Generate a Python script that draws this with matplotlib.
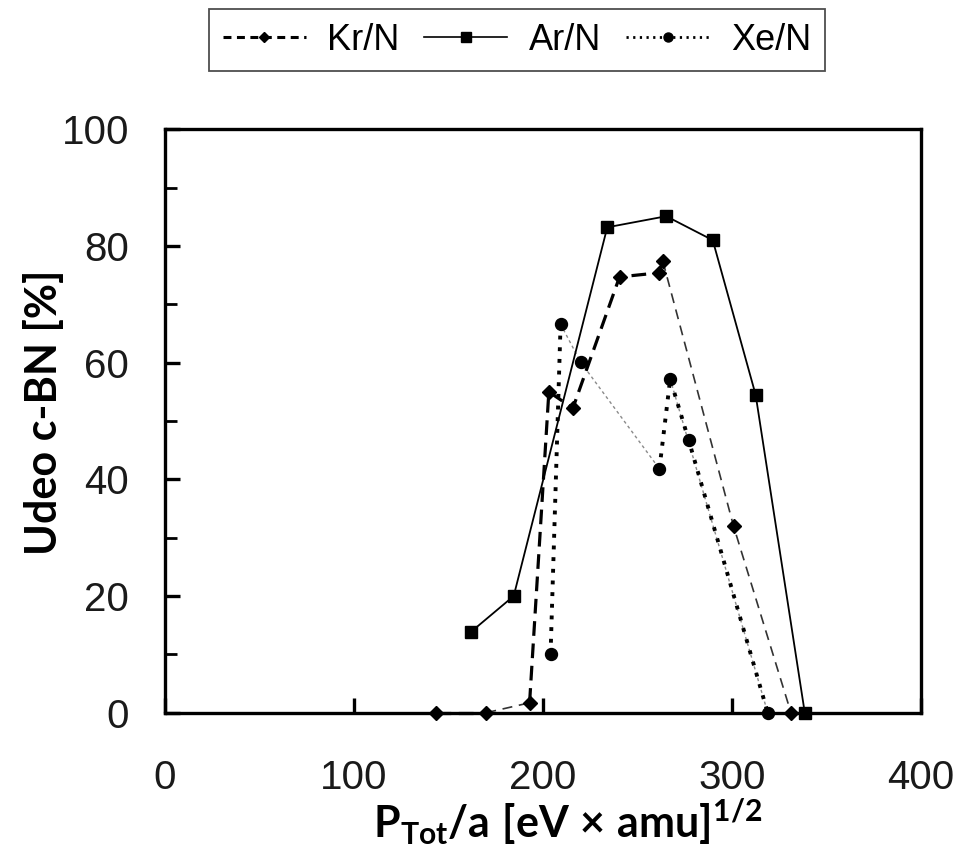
import matplotlib
matplotlib.use("Agg")
import matplotlib.pyplot as plt
from matplotlib.lines import Line2D
from matplotlib.ticker import MultipleLocator

# ---- data -------------------------------------------------------------
kr_x = [143.5, 170.0, 192.9, 203.1, 215.8, 240.5, 261.3, 263.4, 300.8, 331.2]
kr_y = [0.0, 0.0, 1.7, 55.0, 52.2, 74.7, 75.4, 77.4, 32.0, 0.0]

ar_x = [161.7, 184.5, 234.0, 265.2, 289.8, 312.5, 338.5]
ar_y = [13.8, 20.0, 83.2, 85.1, 81.0, 54.5, 0.0]

xe_x = [204.0, 209.3, 219.9, 261.6, 267.3, 277.1, 318.9]
xe_y = [10.0, 66.6, 60.1, 41.8, 57.2, 46.7, 0.0]

series_labels = ["Kr/N", "Ar/N", "Xe/N"]
x_ticks = [0, 100, 200, 300, 400]
y_ticks = [0, 20, 40, 60, 80, 100]

# runs of points joined by heavy vs. light strokes
kr_heavy = [[0, 1], [2, 3, 4, 5, 6, 7]]
kr_light = [[1, 2], [7, 8, 9]]
xe_heavy = [[0, 1], [3, 4, 5, 6]]
xe_light = [[1, 2, 3], [4, 6]]

# ---- figure -----------------------------------------------------------
plt.rcParams["font.family"] = ["Liberation Sans", "DejaVu Sans"]
plt.rcParams["mathtext.fontset"] = "custom"
plt.rcParams["mathtext.rm"] = "Lato:bold"
plt.rcParams["mathtext.it"] = "Lato:bold"
plt.rcParams["mathtext.bf"] = "Lato:bold"

fig = plt.figure(figsize=(9.61, 8.5), dpi=100)
ax = fig.add_axes([165 / 961, 1 - 712.7 / 850, 756 / 961, 583.4 / 850])


def pick(xs, ys, idx):
    return [xs[i] for i in idx], [ys[i] for i in idx]


# Ar/N: solid line with squares
ax.plot(ar_x, ar_y, color="black", lw=1.3, solid_joinstyle="miter",
        zorder=3, clip_on=False)
ax.plot(ar_x, ar_y, ls="none", marker="s", ms=9.0, color="black",
        zorder=5, clip_on=False)

# Kr/N: dashed line with diamonds
for run in kr_heavy:
    xs, ys = pick(kr_x, kr_y, run)
    ax.plot(xs, ys, color="black", lw=2.3, dashes=(4.6, 2.4),
            zorder=3, clip_on=False)
for run in kr_light:
    xs, ys = pick(kr_x, kr_y, run)
    ax.plot(xs, ys, color="#333333", lw=1.2, dashes=(6.0, 4.0),
            zorder=3, clip_on=False)
ax.plot(kr_x, kr_y, ls="none", marker="D", ms=6.8, color="black",
        zorder=5, clip_on=False)

# Xe/N: dotted line with circles
for run in xe_heavy:
    xs, ys = pick(xe_x, xe_y, run)
    ax.plot(xs, ys, color="black", lw=2.8, dashes=(1.0, 2.0),
            zorder=3, clip_on=False)
for run in xe_light:
    xs, ys = pick(xe_x, xe_y, run)
    ax.plot(xs, ys, color="#8a8a8a", lw=1.0, dashes=(2.2, 2.2),
            zorder=2, clip_on=False)
ax.plot(xe_x, xe_y, ls="none", marker="o", ms=8.6, color="black",
        zorder=5, clip_on=False)

# ---- axes -------------------------------------------------------------
ax.set_xlim(x_ticks[0], x_ticks[-1])
ax.set_ylim(y_ticks[0], y_ticks[-1])
ax.set_xticks(x_ticks)
ax.set_yticks(y_ticks)
ax.yaxis.set_minor_locator(MultipleLocator(10))

for side in ax.spines.values():
    side.set_linewidth(2.4)
    side.set_color("black")

ax.tick_params(axis="both", which="major", direction="in", length=10.5,
               width=2.4, labelsize=29, colors="black",
               labelcolor="#1a1a1a")
ax.tick_params(axis="y", which="major", pad=26)
ax.tick_params(axis="x", which="major", pad=33)
ax.tick_params(axis="y", which="minor", direction="in", length=8.5,
               width=2.0)

ax.set_ylabel("Udeo c-BN [%]", fontfamily="Lato", fontweight="bold",
              fontsize=31, va="center")
ax.yaxis.set_label_coords(-0.161, 0.515)
ax.set_xlabel(r"$\mathrm{P_{Tot}/a\ [eV\ ×\ amu]^{1/2}}$",
              fontsize=31, va="baseline")
ax.xaxis.set_label_coords(0.533, -0.215)

# ---- legend -----------------------------------------------------------
handles = [
    Line2D([], [], color="black", lw=2.2, dashes=(2.6, 1.8), marker="D",
           ms=5.0),
    Line2D([], [], color="black", lw=1.2, marker="s", ms=7.0),
    Line2D([], [], color="black", lw=2.0, dashes=(0.8, 1.6), marker="o",
           ms=6.5),
]
leg = fig.legend(handles, series_labels, loc="upper left",
                 bbox_to_anchor=(209 / 961, 1 - 9 / 850),
                 bbox_transform=fig.transFigure, ncol=3, fontsize=26,
                 frameon=True, fancybox=False, edgecolor="#222222",
                 handlelength=2.3, handletextpad=0.6, columnspacing=0.68,
                 borderpad=0.38, borderaxespad=0.0, markerfirst=True)
leg.get_frame().set_linewidth(1.3)

fig.savefig("out.png", dpi=100, facecolor="white")
